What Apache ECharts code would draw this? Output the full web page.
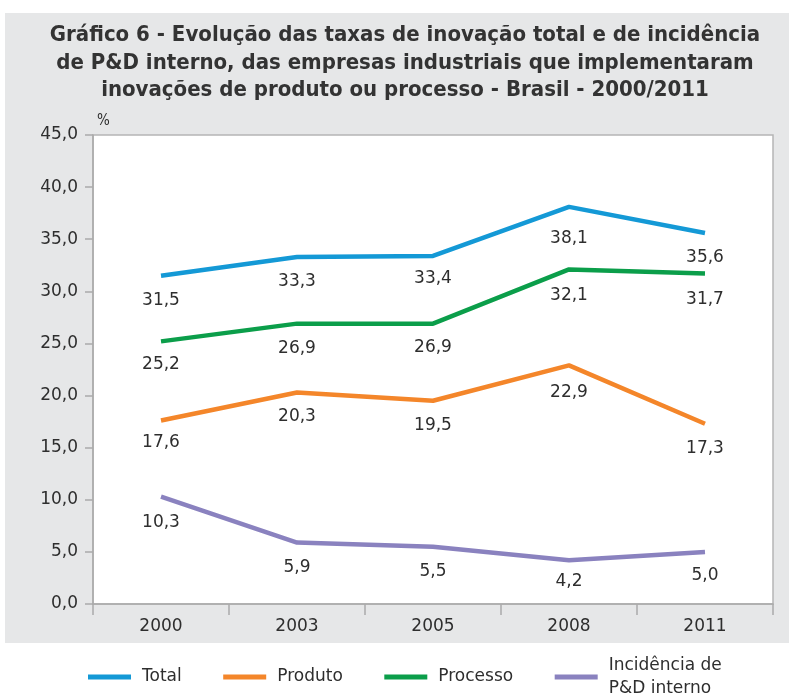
<!DOCTYPE html>
<html><head><meta charset="utf-8">
<script src="https://cdn.jsdelivr.net/npm/echarts@6/dist/echarts.min.js"></script>
<style>html,body{margin:0;padding:0;background:#fff;}#c{width:789px;height:695px;}</style>
</head><body><div id="c"></div>
<script>
const categories = ['2000', '2003', '2005', '2008', '2011'];
const total = [31.5, 33.3, 33.4, 38.1, 35.6];
const produto = [17.6, 20.3, 19.5, 22.9, 17.3];
const processo = [25.2, 26.9, 26.9, 32.1, 31.7];
const pdInterno = [10.3, 5.9, 5.5, 4.2, 5.0];
const seriesNames = ['Total', 'Produto', 'Processo', 'Incidência de\nP&D interno'];
const titleText = 'Gráfico 6 - Evolução das taxas de inovação total e de incidência\nde P&D interno, das empresas industriais que implementaram\ninovações de produto ou processo - Brasil - 2000/2011';

const fmt = v => v.toFixed(1).replace('.', ',');
const colors = ['#1499d6', '#f4862a', '#0b9e4a', '#8a82bf'];
const font = "'DejaVu Sans','Liberation Sans',Arial,sans-serif";
const titleFont = "'DejaVu Sans Condensed','Liberation Sans Narrow',sans-serif";
const txt = '#2e2e2e';

// extra label spacing under peak points (style only)
function mk(name, data, color, extra) {
  return {
    name, type: 'line', symbol: 'circle', symbolSize: 0, showSymbol: true,
    data: data.map((v, i) => ({ value: v, label: { distance: 16 + (extra[i] || 0) } })),
    lineStyle: { color, width: 4.5 }, itemStyle: { color },
    label: { show: true, position: 'bottom', distance: 16, formatter: p => fmt(p.value),
      fontFamily: font, fontSize: 17, color: txt }
  };
}

const chart = echarts.init(document.getElementById('c'));
chart.setOption({
  backgroundColor: '#ffffff',
  animation: false,
  graphic: [
    { type: 'rect', z: -10, silent: true, shape: { x: 5, y: 13, width: 784, height: 630 }, style: { fill: '#e6e7e8' } },
    { type: 'text', x: 405, y: 22, style: { text: titleText, align: 'center', verticalAlign: 'top',
      fontFamily: titleFont, fontSize: 22, fontWeight: 'bold', fill: '#333333', lineHeight: 27.5 } }
  ],
  grid: { left: 93, right: 16, top: 135, bottom: 91, show: true, backgroundColor: '#ffffff', borderColor: '#b5b5b5', borderWidth: 1.5 },
  legend: { top: 654, left: 88, padding: 0, itemWidth: 43, itemHeight: 5, itemGap: 41.5, icon: 'rect',
    data: seriesNames,
    textStyle: { fontFamily: font, fontSize: 17, color: txt, lineHeight: 23, padding: [0, 0, 0, 6] } },
  xAxis: { type: 'category', data: categories, boundaryGap: true,
    axisLine: { lineStyle: { color: '#aaaaaa', width: 1.5 } },
    axisTick: { show: true, length: 11, lineStyle: { color: '#aaaaaa', width: 1.5 } },
    axisLabel: { fontFamily: font, fontSize: 17, color: txt, margin: 14 } },
  yAxis: { type: 'value', min: 0, max: 45, interval: 5, name: '%', nameLocation: 'end', nameGap: 6,
    nameTextStyle: { fontFamily: titleFont, fontSize: 15, color: txt, align: 'left', padding: [0, 0, 0, 4] },
    splitLine: { show: false },
    axisLine: { show: true, lineStyle: { color: '#aaaaaa', width: 1.5 } },
    axisTick: { show: true, length: 8, lineStyle: { color: '#aaaaaa', width: 1.5 } },
    axisLabel: { fontFamily: font, fontSize: 17, color: txt, margin: 15, formatter: v => fmt(v) } },
  series: [mk(seriesNames[0], total, colors[0], [0, 0, -2, 7, 0]),
           mk(seriesNames[1], produto, colors[1], [-2, 0, 0, 3, 0]),
           mk(seriesNames[2], processo, colors[2], [-1, 0, -1, 2, 1]),
           mk(seriesNames[3], pdInterno, colors[3], [1, 1, 0, -3, -1])]
});
</script></body></html>
